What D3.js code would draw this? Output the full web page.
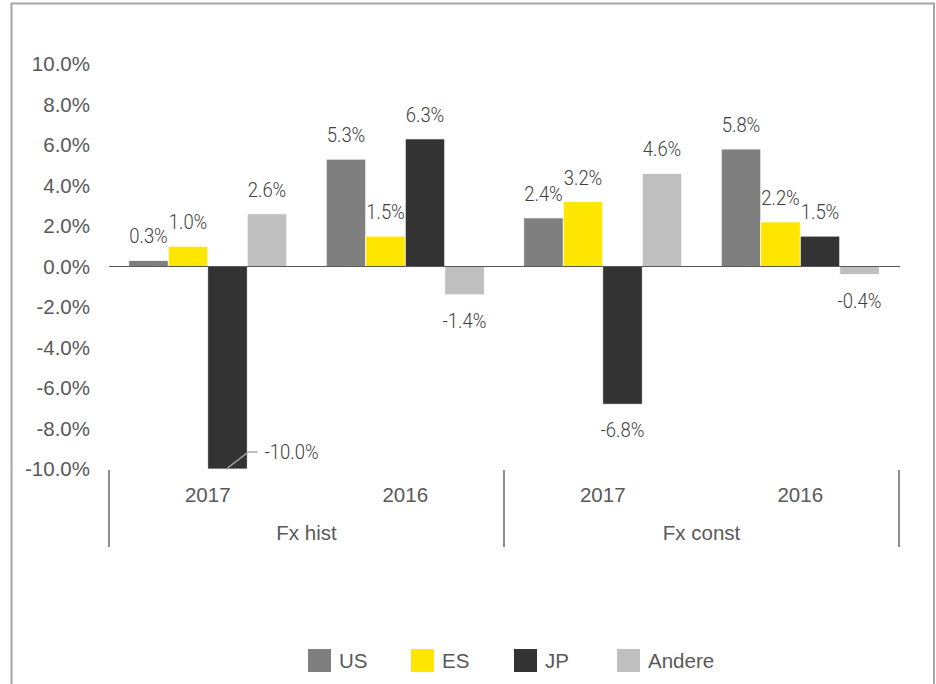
<!DOCTYPE html>
<html lang="de">
<head>
<meta charset="UTF-8">
<title>Fx hist / Fx const</title>
<style>
  html, body { margin: 0; padding: 0; background: #fff; }
  svg { display: block; }
</style>
<script src="https://d3js.org/d3.v7.min.js"></script>
</head>
<body>
<script>
// data
var years = ["2017", "2016", "2017", "2016"];
var groups = ["Fx hist", "Fx const"];
var series = ["US", "ES", "JP", "Andere"];
var colors = ["#7f7f7f", "#ffe600", "#333333", "#bfbfbf"];
var US = [0.3, 5.3, 2.4, 5.8];
var ES = [1.0, 1.5, 3.2, 2.2];
var JP = [-10.0, 6.3, -6.8, 1.5];
var Andere = [2.6, -1.4, 4.6, -0.4];
var yTicks = [-10, -8, -6, -4, -2, 0, 2, 4, 6, 8, 10];

var values = [US, ES, JP, Andere];
var W = 936, H = 684;
var left = 109, right = 899;

// percent with a plain hyphen as minus sign
var pct = function (v) { return d3.format(".1f")(v).replace("\u2212", "-") + "%"; };

var svg = d3.select("body").append("svg")
  .attr("width", W).attr("height", H);

// outer frame
svg.append("rect")
  .attr("x", 11.5).attr("y", 3.5)
  .attr("width", 922.5).attr("height", 690)
  .attr("fill", "none").attr("stroke", "#a6a6a6").attr("stroke-width", 2);

var slots = years.map(function (d, i) { return i; });
var x0 = d3.scaleBand().domain(slots).range([left, right]);
var x1 = d3.scaleBand().domain(series).range([0, x0.bandwidth()]).paddingOuter(0.5);
var y = d3.scaleLinear().domain([-10, 10]).range([469, 64]);

// y axis labels (no line)
var yAxis = d3.axisLeft(y).tickValues(yTicks).tickSize(0).tickPadding(0)
  .tickFormat(pct);
var yg = svg.append("g").attr("transform", "translate(90,0)").call(yAxis);
yg.select(".domain").remove();
yg.selectAll("text")
  .attr("font-family", "'Liberation Sans', Arial, sans-serif")
  .attr("font-size", 20.5).attr("fill", "#595959");

// bars
var rows = [];
series.forEach(function (s, si) {
  values[si].forEach(function (v, i) {
    rows.push({ s: s, si: si, i: i, v: v });
  });
});

svg.append("g").selectAll("rect").data(rows).join("rect")
  .attr("x", function (d) { return x0(d.i) + x1(d.s); })
  .attr("width", x1.bandwidth())
  .attr("y", function (d) { return y(Math.max(0, d.v)); })
  .attr("height", function (d) { return Math.abs(y(d.v) - y(0)); })
  .attr("fill", function (d) { return colors[d.si]; })
  .attr("stroke", "#fff").attr("stroke-width", 0.75);

// zero line
svg.append("line")
  .attr("x1", left).attr("x2", right + 1)
  .attr("y1", y(0)).attr("y2", y(0))
  .attr("stroke", "#595959").attr("stroke-width", 1);

// data labels (light, slightly narrow)
var lab = svg.append("g")
  .attr("font-family", "Roboto, 'Liberation Sans', sans-serif")
  .attr("font-weight", 300)
  .attr("font-size", 21).attr("fill", "#404040");

function label(x, yy, txt, anchor) {
  lab.append("text")
    .attr("transform", "translate(" + x + "," + yy + ") scale(0.88,1)")
    .attr("text-anchor", anchor).text(txt);
}

rows.forEach(function (d) {
  var cx = x0(d.i) + x1(d.s) + x1.bandwidth() / 2;
  var txt = pct(d.v);
  if (d.v <= y.domain()[0]) {
    // label pushed to the side with a leader line
    var by = y(d.v);
    svg.append("polyline")
      .attr("points", [[cx, by - 1], [cx + 21, by - 17], [cx + 30, by - 17]].join(" "))
      .attr("fill", "none").attr("stroke", "#a6a6a6").attr("stroke-width", 1.5);
    label(cx + 37, by - 10, txt, "start");
  } else if (d.v >= 0) {
    label(cx, y(d.v) - 17, txt, "middle");
  } else {
    label(cx, y(d.v) + 33, txt, "middle");
  }
});

// category axis
var ax = svg.append("g")
  .attr("font-family", "'Liberation Sans', Arial, sans-serif")
  .attr("font-size", 20.5).attr("fill", "#595959");
[left, (left + right) / 2, right].forEach(function (xv) {
  ax.append("line").attr("x1", xv).attr("x2", xv)
    .attr("y1", 470).attr("y2", 547)
    .attr("stroke", "#404040").attr("stroke-width", 1.2);
});
years.forEach(function (yr, i) {
  ax.append("text").attr("x", x0(i) + x0.bandwidth() / 2).attr("y", 502)
    .attr("text-anchor", "middle").text(yr);
});
groups.forEach(function (g, gi) {
  ax.append("text").attr("x", x0(gi * 2) + x0.bandwidth()).attr("y", 540)
    .attr("text-anchor", "middle").text(g);
});

// legend
var lg = svg.append("g")
  .attr("font-family", "'Liberation Sans', Arial, sans-serif")
  .attr("font-size", 20.5).attr("fill", "#595959");
series.forEach(function (s, i) {
  var lx = 308 + i * 103;
  lg.append("rect").attr("x", lx).attr("y", 649).attr("width", 23).attr("height", 23)
    .attr("fill", colors[i]);
  lg.append("text").attr("x", lx + 31).attr("y", 668).text(s);
});
</script>
</body>
</html>
